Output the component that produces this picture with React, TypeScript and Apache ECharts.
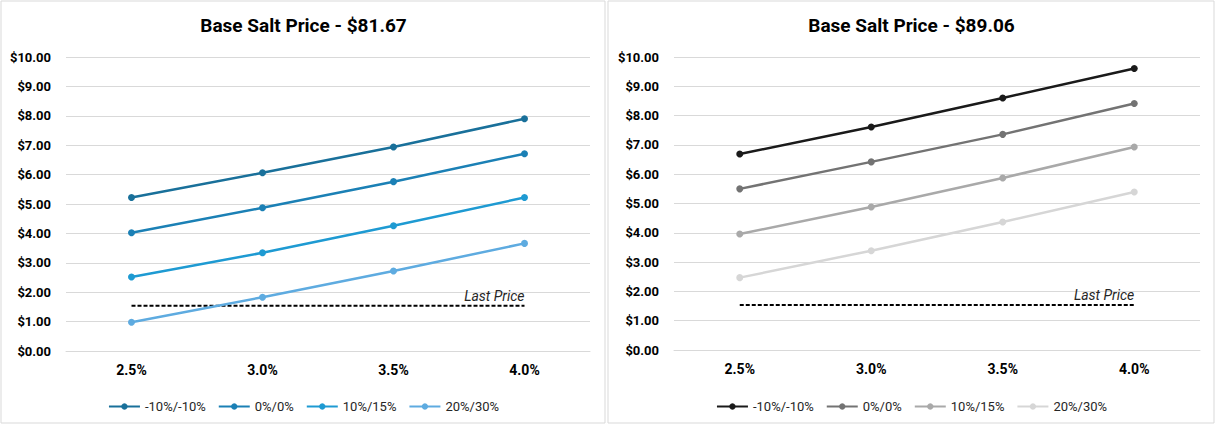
import React, { useEffect, useRef } from "react";
import * as echarts from "echarts";

// Rate scenarios along the x axis
const categories = ["2.5%", "3.0%", "3.5%", "4.0%"];
const seriesNames = ["-10%/-10%", "0%/0%", "10%/15%", "20%/30%"];
const yTicks = { min: 0, max: 10, interval: 1 };

// Panel 1: base salt price $81.67
const leftTitle = "Base Salt Price - $81.67";
const leftA = [5.22, 6.06, 6.94, 7.9];
const leftB = [4.02, 4.87, 5.76, 6.71];
const leftC = [2.52, 3.34, 4.26, 5.22];
const leftD = [0.98, 1.83, 2.72, 3.66];
const leftLastPrice = 1.54;
const leftColors = ["#19709a", "#1b80b5", "#1e9ad2", "#5eabe0"];

// Panel 2: base salt price $89.06
const rightTitle = "Base Salt Price - $89.06";
const rightA = [6.69, 7.61, 8.6, 9.61];
const rightB = [5.5, 6.42, 7.36, 8.41];
const rightC = [3.96, 4.88, 5.87, 6.93];
const rightD = [2.47, 3.39, 4.37, 5.39];
const rightLastPrice = 1.54;
const rightColors = ["#1a1a1a", "#737373", "#a9a9a9", "#d6d6d6"];

const lastPriceLabel = "Last Price";
const FONT = "Roboto";

type PanelProps = {
  title: string;
  values: number[][];
  colors: string[];
  lastPrice: number;
  left: number;
  width: number;
  gridLeft: number;
  gridRight: number;
  gridBottom: number;
};

function buildOption(p: PanelProps) {
  const lines = p.values.map((vals, i) => ({
    name: seriesNames[i],
    type: "line",
    data: vals,
    symbol: "circle",
    symbolSize: 7,
    lineStyle: { width: 2.5, color: p.colors[i] },
    itemStyle: { color: p.colors[i] },
    z: 3,
  }));
  const lastData = categories.map((_, i) =>
    i === categories.length - 1
      ? {
          value: p.lastPrice,
          label: {
            show: true,
            position: "top",
            align: "right",
            distance: 3,
            formatter: lastPriceLabel,
            fontFamily: FONT,
            fontStyle: "italic",
            fontSize: 14,
            color: "#262626",
          },
        }
      : p.lastPrice
  );
  return {
    animation: false,
    title: {
      text: p.title,
      left: "center",
      top: 11,
      textStyle: { fontFamily: FONT, fontWeight: "bold", fontSize: 19, color: "#000" },
    },
    graphic: [
      {
        type: "rect",
        shape: { x: 1, y: 1, width: p.width - 3, height: 422 },
        style: { fill: "none", stroke: "#d9d9d9", lineWidth: 1 },
        silent: true,
      },
    ],
    legend: {
      data: seriesNames,
      left: "center",
      top: 395,
      itemWidth: 31,
      itemHeight: 8,
      itemGap: 12,
      textStyle: { fontFamily: FONT, fontSize: 13, color: "#262626" },
    },
    grid: {
      left: p.gridLeft,
      right: p.gridRight,
      top: 57,
      bottom: p.gridBottom,
      containLabel: false,
    },
    xAxis: {
      type: "category",
      data: categories,
      boundaryGap: true,
      axisLine: { show: true, lineStyle: { color: "#d9d9d9", width: 1 } },
      axisTick: { show: false },
      axisLabel: {
        margin: 12,
        fontFamily: FONT,
        fontWeight: "bold",
        fontSize: 14,
        color: "#000",
      },
    },
    yAxis: {
      type: "value",
      min: yTicks.min,
      max: yTicks.max,
      interval: yTicks.interval,
      axisLine: { show: false },
      axisTick: { show: false },
      splitLine: { lineStyle: { color: "#d9d9d9", width: 1 } },
      axisLabel: {
        margin: 15,
        fontFamily: FONT,
        fontWeight: "bold",
        fontSize: 13,
        color: "#000",
        formatter: (v: number) => "$" + v.toFixed(2),
      },
    },
    series: [
      ...lines,
      {
        name: lastPriceLabel,
        type: "line",
        data: lastData,
        symbol: "circle",
        symbolSize: 0,
        showSymbol: true,
        lineStyle: { width: 2, color: "#000", type: [4, 2] },
        itemStyle: { color: "#000" },
        z: 2,
      },
    ],
  };
}

function Panel(p: PanelProps) {
  const ref = useRef<HTMLDivElement>(null);
  useEffect(() => {
    if (!ref.current) return;
    const chart = echarts.init(ref.current, undefined, { renderer: "svg" });
    chart.setOption(buildOption(p) as any);
    return () => chart.dispose();
  }, []);
  return (
    <div
      ref={ref}
      style={{ position: "absolute", left: p.left, top: 0, width: p.width, height: 425 }}
    />
  );
}

export default function App() {
  return (
    <div
      style={{
        position: "fixed",
        left: 0,
        top: 0,
        width: 1216,
        height: 425,
        background: "#fff",
      }}
    >
      <Panel
        title={leftTitle}
        values={[leftA, leftB, leftC, leftD]}
        colors={leftColors}
        lastPrice={leftLastPrice}
        left={0}
        width={607}
        gridLeft={66}
        gridRight={17}
        gridBottom={74}
      />
      <Panel
        title={rightTitle}
        values={[rightA, rightB, rightC, rightD]}
        colors={rightColors}
        lastPrice={rightLastPrice}
        left={607}
        width={609}
        gridLeft={67}
        gridRight={16}
        gridBottom={75}
      />
    </div>
  );
}
